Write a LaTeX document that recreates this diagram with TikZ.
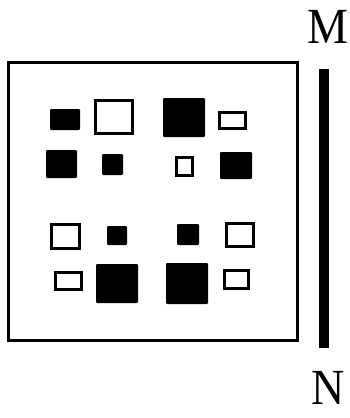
\documentclass[tikz,border=0pt]{standalone}
\usepackage{fontspec}
\setmainfont{Liberation Serif}
\begin{document}
\begin{tikzpicture}[x=1pt,y=-1pt,
  frame/.style={draw=black,line width=3pt},
  filledsq/.style={fill=black,draw=black,line width=0.8pt,rounded corners=0.8pt},
  opensq/.style={draw=black,line width=2.6pt,fill=white},
  bar/.style={line width=10pt},
  lbl/.style={font=\fontsize{46}{46}\selectfont,inner sep=0pt}]
\useasboundingbox (0,0) rectangle (350,418);
% outer frame
\draw[frame] (8.5,62.5) rectangle (297.5,340.5);
% filled squares
\draw[filledsq] (50.4,109.4) rectangle (79.6,129.6);
\draw[filledsq] (163.4,98.4) rectangle (204.6,136.6);
\draw[filledsq] (46.4,150.4) rectangle (76.6,177.6);
\draw[filledsq] (102.4,154.4) rectangle (122.6,174.6);
\draw[filledsq] (220.4,152.4) rectangle (251.6,178.6);
\draw[filledsq] (107.4,226.4) rectangle (126.6,244.6);
\draw[filledsq] (177.4,224.4) rectangle (198.6,244.6);
\draw[filledsq] (96.4,264.4) rectangle (137.6,302.6);
\draw[filledsq] (166.4,263.4) rectangle (207.6,303.6);
% open squares
\draw[opensq] (95.3,100.3) rectangle (132.7,133.7);
\draw[opensq] (219.3,112.3) rectangle (245.7,128.7);
\draw[opensq] (176.3,157.3) rectangle (192.7,175.7);
\draw[opensq] (51.3,224.3) rectangle (79.7,248.7);
\draw[opensq] (226.3,223.3) rectangle (253.7,246.7);
\draw[opensq] (55.3,272.3) rectangle (81.7,289.7);
\draw[opensq] (224.3,270.3) rectangle (248.7,288.7);
% labels and bar
\node[lbl] (m) at (328,27) {\scalebox{1}[1.1]{M}};
\node[lbl] (n) at (328,388) {\scalebox{1}[1.1]{N}};
\coordinate (bartop) at (324,69);
\coordinate (barbot) at (324,348);
\draw[bar] (bartop) -- (barbot);
\end{tikzpicture}
\end{document}
